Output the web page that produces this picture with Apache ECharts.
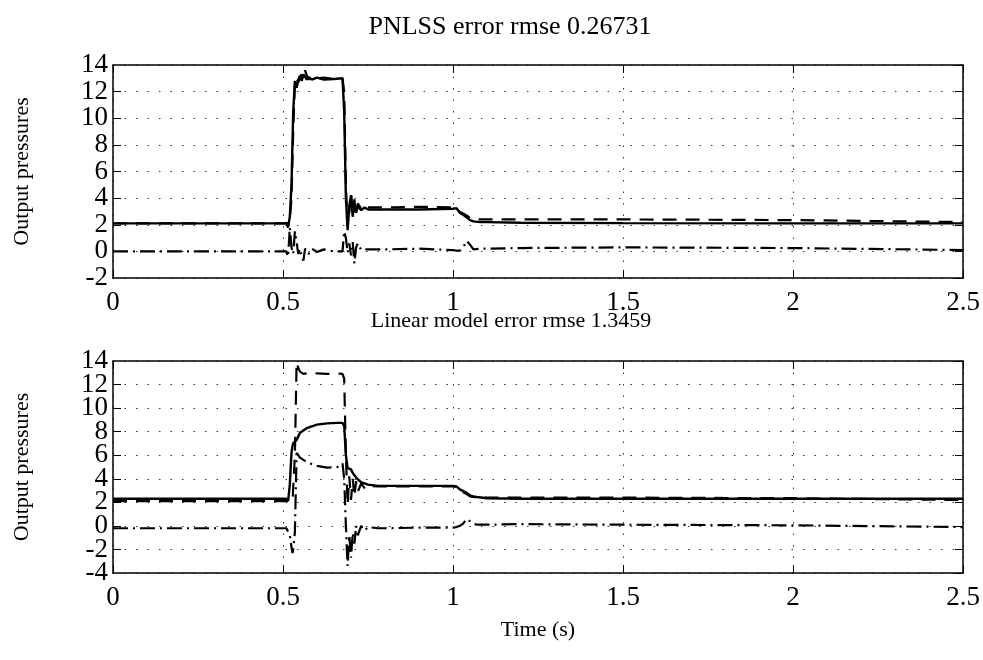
<!DOCTYPE html>
<html>
<head>
<meta charset="utf-8">
<script src="https://cdn.jsdelivr.net/npm/echarts@6/dist/echarts.min.js"></script>
<style>
html,body{margin:0;padding:0;background:#fff;}
#chart{width:983px;height:660px;}
</style>
</head>
<body>
<div id="chart"></div>
<script>
// ---------- data ----------
const topTitle = 'PNLSS error rmse 0.26731';
const botTitle = 'Linear model error rmse 1.3459';
const yName = 'Output pressures';
const xName = 'Time (s)';

const topTime     = [0, 0.5, 0.51, 0.515, 0.52, 0.525, 0.53, 0.535, 0.54, 0.545, 0.55, 0.555, 0.56, 0.565, 0.57, 0.575, 0.585, 0.6, 0.62, 0.65, 0.675, 0.68, 0.685, 0.69, 0.695, 0.7, 0.705, 0.71, 0.715, 0.72, 0.73, 0.74, 0.75, 0.8, 0.9, 1.0, 1.01, 1.02, 1.03, 1.04, 1.045, 1.05, 1.06, 1.08, 1.1, 1.2, 1.5, 2.0, 2.5];
const topMeasured = [2.1, 2.1, 2.1, 2.1, 2.3, 4.0, 9.0, 12.6, 13.0, 12.7, 13.1, 13.3, 13.0, 13.6, 13.2, 12.9, 13.1, 13.0, 13.05, 12.95, 13.0, 12.0, 5.0, 1.9, 3.0, 4.4, 2.8, 3.9, 3.0, 3.6, 3.2, 3.45, 3.3, 3.3, 3.35, 3.3, 3.3, 2.95, 2.85, 2.7, 2.6, 2.5, 2.4, 2.4, 2.4, 2.4, 2.4, 2.35, 2.2];
const topModel    = [2.1, 2.1, 2.1, 1.8, 2.6, 5.0, 10.5, 12.8, 12.3, 12.9, 13.2, 12.8, 13.3, 13.4, 12.9, 13.1, 12.9, 13.05, 12.9, 12.95, 13.0, 10.5, 4.0, 1.6, 3.4, 4.2, 2.6, 3.7, 2.9, 3.4, 3.1, 3.3, 3.15, 3.15, 3.15, 3.2, 3.25, 2.9, 2.75, 2.55, 2.45, 2.35, 2.25, 2.2, 2.2, 2.15, 2.12, 2.1, 2.1];
const topError    = [0, 0, 0, -0.4, 1.8, 0.3, -0.2, 1.5, 0.7, -0.2, 0.2, -0.4, -0.7, 0.2, 0.3, -0.2, 0.2, -0.05, 0.15, 0.0, 0.0, 1.5, 1.0, -0.1, 0.6, -0.3, 0.7, -0.9, 0.3, 0.6, 0.1, 0.15, 0.15, 0.15, 0.2, 0.1, 0.05, 0.05, 0.3, 0.8, 0.85, 0.5, 0.15, 0.2, 0.2, 0.25, 0.3, 0.25, 0.1];

const botTime     = [0, 0.5, 0.51, 0.515, 0.52, 0.525, 0.528, 0.53, 0.535, 0.54, 0.545, 0.55, 0.56, 0.57, 0.58, 0.6, 0.63, 0.66, 0.675, 0.68, 0.685, 0.69, 0.695, 0.7, 0.705, 0.71, 0.715, 0.72, 0.73, 0.74, 0.75, 0.78, 0.8, 0.9, 1.0, 1.01, 1.02, 1.03, 1.04, 1.045, 1.05, 1.06, 1.07, 1.1, 1.2, 1.5, 2.0, 2.5];
const botMeasured = [2.1, 2.1, 2.1, 2.1, 2.1, 2.1, 2.1, 2.2, 6.0, 13.9, 13.4, 13.1, 12.9, 12.95, 12.9, 12.95, 12.9, 12.95, 12.9, 12.5, 6.0, 1.8, 4.2, 2.2, 4.0, 2.5, 3.8, 2.9, 3.6, 3.2, 3.4, 3.35, 3.35, 3.35, 3.35, 3.3, 2.95, 2.85, 2.7, 2.6, 2.5, 2.45, 2.4, 2.4, 2.4, 2.4, 2.35, 2.2];
const botModel    = [2.3, 2.3, 2.3, 2.1, 3.5, 6.2, 6.8, 7.0, 6.9, 7.3, 7.6, 7.9, 8.1, 8.3, 8.4, 8.6, 8.7, 8.75, 8.75, 8.5, 6.0, 4.9, 4.9, 4.8, 4.5, 4.3, 4.1, 4.0, 3.7, 3.6, 3.5, 3.4, 3.4, 3.4, 3.4, 3.35, 3.1, 2.95, 2.8, 2.7, 2.6, 2.5, 2.45, 2.35, 2.3, 2.3, 2.3, 2.3];
const botError    = [-0.2, -0.2, -0.2, -0.1, -0.8, -1.8, -2.3, -2.0, -0.5, 6.2, 6.0, 5.8, 5.6, 5.4, 5.3, 5.1, 4.95, 5.0, 5.3, 4.0, 0.0, -3.4, -0.8, -2.7, -0.6, -1.5, 0.0, -0.8, 0.0, -0.4, -0.1, -0.2, -0.2, -0.15, -0.15, -0.1, 0.0, 0.2, 0.6, 0.65, 0.4, 0.2, 0.1, 0.1, 0.15, 0.1, 0.05, -0.1];

const xRange = [0, 2.5];
const topYRange = [-2, 14];
const botYRange = [-4, 14];

// ---------- chart ----------
const FONT = 'Liberation Serif';
const pair = (t, v) => t.map((x, i) => [x, v[i]]);

function xAx(grid, pos, showLabel, name) {
  return {
    type: 'value', gridIndex: grid, position: pos, min: xRange[0], max: xRange[1], interval: 0.5,
    axisLine: { show: true, onZero: false, lineStyle: { color: '#000', width: 1.5 } },
    axisTick: { show: true, inside: true, length: 8, lineStyle: { color: '#000', width: 1 } },
    axisLabel: { show: showLabel, fontFamily: FONT, fontSize: 27, color: '#000', margin: 11,
                 showMinLabel: true, showMaxLabel: true, hideOverlap: false },
    splitLine: { show: pos === 'bottom', lineStyle: { color: '#333', width: 1, type: [1.5, 10] } },
    name: name || '', nameLocation: 'middle', nameGap: 46,
    nameTextStyle: { fontFamily: FONT, fontSize: 22, color: '#000' }
  };
}
// kind: 'main' (left, inner labels + frame), 'ends' (left, only min/max labels), 'right' (frame only)
function yAx(grid, kind, range) {
  const main = kind === 'main', ends = kind === 'ends';
  return {
    type: 'value', gridIndex: grid, position: kind === 'right' ? 'right' : 'left',
    min: range[0], max: range[1], interval: 2,
    axisLine: { show: !ends, onZero: false, lineStyle: { color: '#000', width: 1.5 } },
    axisTick: { show: !ends, inside: true, length: 8, lineStyle: { color: '#000', width: 1 } },
    axisLabel: { show: kind !== 'right', margin: 5, hideOverlap: false,
                 showMinLabel: ends, showMaxLabel: ends,
                 formatter: v => (ends ? ((v === range[0] || v === range[1]) ? String(v) : '') : String(v)),
                 fontFamily: FONT, fontSize: 27, color: '#000' },
    splitLine: { show: main, lineStyle: { color: '#333', width: 1, type: [1.5, 10] } },
    name: main ? yName : '', nameLocation: 'middle', nameGap: 80, nameRotate: 90,
    nameTextStyle: { fontFamily: FONT, fontSize: 22, color: '#000' }
  };
}
function lines(xi, yi, t, meas, model, err) {
  return [
    { type: 'line', xAxisIndex: xi, yAxisIndex: yi, data: pair(t, meas), showSymbol: false, symbol: 'none',
      lineStyle: { color: '#000', width: 2.2, type: [14, 9] }, z: 3 },
    { type: 'line', xAxisIndex: xi, yAxisIndex: yi, data: pair(t, model), showSymbol: false, symbol: 'none',
      lineStyle: { color: '#000', width: 2.4, type: 'solid' }, z: 4 },
    { type: 'line', xAxisIndex: xi, yAxisIndex: yi, data: pair(t, err), showSymbol: false, symbol: 'none',
      lineStyle: { color: '#000', width: 2.2, type: [15, 5, 2, 5] }, z: 3 }
  ];
}

const chart = echarts.init(document.getElementById('chart'), null, { renderer: 'canvas' });
chart.setOption({
  animation: false,
  backgroundColor: '#fff',
  title: [
    { text: topTitle, left: 505, top: 9, textAlign: 'center',
      textStyle: { fontFamily: FONT, fontSize: 26, fontWeight: 'normal', color: '#000' } },
    { text: botTitle, left: 506, top: 305, textAlign: 'center',
      textStyle: { fontFamily: FONT, fontSize: 22, fontWeight: 'normal', color: '#000' } }
  ],
  grid: [
    { left: 113, top: 65, width: 850, height: 213 },
    { left: 113, top: 361, width: 850, height: 212 }
  ],
  xAxis: [
    xAx(0, 'bottom', true), xAx(0, 'top', false),
    xAx(1, 'bottom', true, xName), xAx(1, 'top', false)
  ],
  yAxis: [
    yAx(0, 'main', topYRange), yAx(0, 'ends', topYRange), yAx(0, 'right', topYRange),
    yAx(1, 'main', botYRange), yAx(1, 'ends', botYRange), yAx(1, 'right', botYRange)
  ],
  series: [].concat(
    lines(0, 0, topTime, topMeasured, topModel, topError),
    lines(2, 3, botTime, botMeasured, botModel, botError)
  )
});
</script>
</body>
</html>
